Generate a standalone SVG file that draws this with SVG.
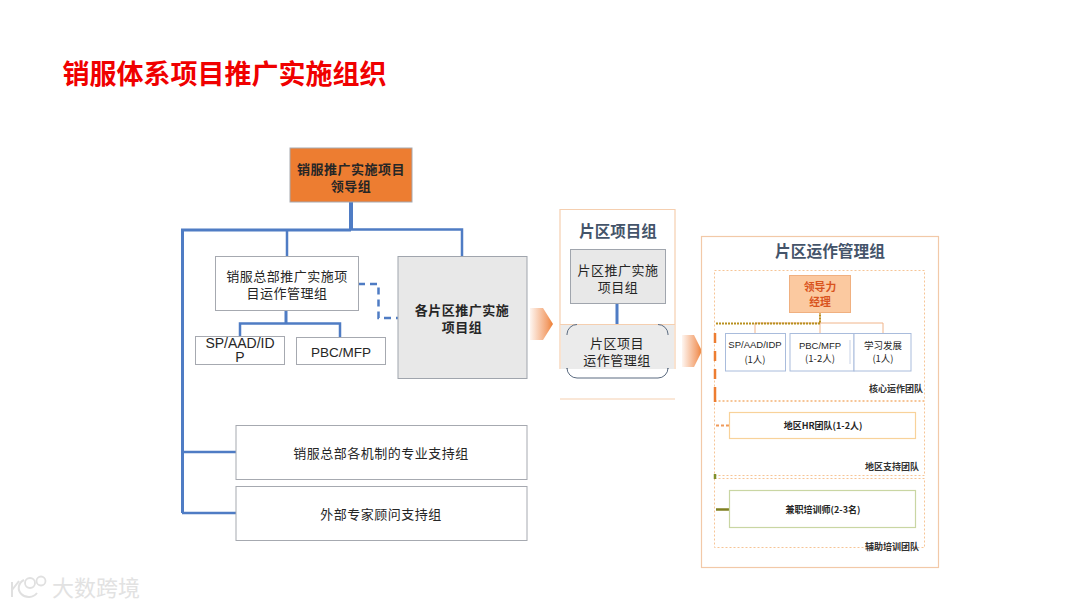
<svg xmlns="http://www.w3.org/2000/svg" width="1080" height="608" viewBox="0 0 1080 608">
<style>
text{font-family:"Liberation Sans","Noto Sans CJK SC",sans-serif;text-anchor:middle;fill:#262626}
.cjk{font-family:"Noto Sans CJK SC","Liberation Sans",sans-serif}
.b{font-weight:700}
.box{fill:#fff;stroke:#a6a9b0;stroke-width:1}
.grey{fill:#e8e8e8;stroke:#a0a5ad;stroke-width:1}
.blue{fill:none;stroke:#4f7cc4;stroke-width:2.5}
.pe{fill:none;stroke:#f5cfb0;stroke-width:1.2}
.dot{fill:none;stroke:#f6c596;stroke-width:1;stroke-dasharray:2 2}
.t13{font-size:13px;letter-spacing:.5px}.t9{font-size:9.5px}
.lab{font-size:9px;font-weight:700;fill:#333}
</style>
<defs>
<linearGradient id="fade" x1="0" x2="1" y1="0" y2="0"><stop offset="0" stop-color="#f08a4b" stop-opacity="0.08"/><stop offset="0.75" stop-color="#f08a4b" stop-opacity="0.8"/><stop offset="1" stop-color="#ed7d31"/></linearGradient>
</defs>
<rect width="1080" height="608" fill="#fff"/>
<text id="title" x="224.500" y="84" class="cjk b" style="font-size:27px;fill:#f00000">销服体系项目推广实施组织</text>

<g id="connectors">
<path class="blue" d="M351 202V229" style="stroke-width:4"/>
<path class="blue" d="M182.500 513V230H351" style="stroke-width:3"/>
<path class="blue" d="M287 230V256M351 229.500H462V256"/>
<path class="blue" d="M182 452H236M182 513H236"/>
<path class="blue" d="M286 310V323" style="stroke-width:3"/>
<path class="blue" d="M240 336V323.500H340V337"/>
<path class="blue" d="M358 284H378.500V318H398" style="stroke-dasharray:7 5"/>
<path class="blue" d="M617 303V324" style="stroke-width:3"/>
</g>

<g id="lead"><rect x="290" y="148" width="122" height="54" fill="#ed7d31" stroke="#a6a9b0"/>
<text x="351" y="173.500" class="cjk b t13">销服推广实施项目</text><text x="351" y="190.500" class="cjk b t13">领导组</text></g>
<g id="ops"><rect class="box" x="215.500" y="256.500" width="143" height="54"/>
<text x="287" y="281" class="cjk t13">销服总部推广实施项</text><text x="287" y="298" class="cjk t13">目运作管理组</text></g>
<g id="sp"><rect class="box" x="195.500" y="336.500" width="89" height="28"/>
<text x="240" y="348" style="font-size:14px">SP/AAD/ID</text><text x="240" y="362" style="font-size:14px">P</text></g>
<g id="pbc"><rect class="box" x="296.500" y="337.500" width="89" height="27"/>
<text x="341" y="357" style="font-size:13.500px">PBC/MFP</text></g>
<g id="regions"><rect class="grey" x="398" y="256.500" width="129" height="122"/>
<text x="462" y="315" class="cjk b t13">各片区推广实施</text><text x="462" y="332" class="cjk b t13">项目组</text></g>
<g id="support1"><rect class="box" x="236" y="425.500" width="291" height="54"/>
<text x="381" y="458" class="cjk t13">销服总部各机制的专业支持组</text></g>
<g id="support2"><rect class="box" x="236" y="486.500" width="291" height="54"/>
<text x="381" y="519" class="cjk t13">外部专家顾问支持组</text></g>

<path id="arrow1" d="M530 308H543L553 324L543 340H530Z" fill="url(#fade)"/>
<g id="area-group">
<path class="pe" d="M560 369V209.500H675V369M560 324.500H675M560 399H675"/>
<rect x="561" y="325" width="113" height="44" fill="#ebebeb"/>
<text x="618" y="237" class="cjk b" style="font-size:15.500px;fill:#44546a">片区项目组</text>
</g>
<g id="area-impl"><rect class="grey" x="570.500" y="249.500" width="95" height="54"/>
<text x="618" y="275" class="cjk t13">片区推广实施</text><text x="618" y="292" class="cjk t13">项目组</text></g>
<g id="area-ops">
<path d="M567 335V334A10 10 0 0 1 577 324.500M658 324.500A10 10 0 0 1 668 334V335M567 369V368A10 10 0 0 0 577 378H658A10 10 0 0 0 668 368V369" fill="none" stroke="#5b6b80"/>
<text x="617" y="348" class="cjk t13">片区项目</text><text x="617" y="365" class="cjk t13">运作管理组</text></g>
<path id="arrow2" d="M682 335H694L702 351L694 367H682Z" fill="url(#fade)"/>

<g id="mgmt"><rect x="701.500" y="236.500" width="237" height="331" fill="none" stroke="#f2c9a8" stroke-width="1.200"/>
<text x="830" y="257" class="cjk b" style="font-size:15.700px;fill:#44546a">片区运作管理组</text></g>
<g id="teams">
<rect class="dot" x="714.500" y="270.500" width="210" height="130"/>
<rect class="dot" x="714.500" y="401.500" width="210" height="74"/>
<rect class="dot" x="714.500" y="478.500" width="210" height="69"/>
<text x="896" y="392" class="lab cjk">核心运作团队</text>
<text x="892" y="470" class="lab cjk">地区支持团队</text>
<text x="892" y="550" class="lab cjk">辅助培训团队</text>
</g>
<g id="team-connectors" fill="none">
<path d="M755 333V323H883V333M820 313V333" stroke="#f0b48a" stroke-width="1"/>
<path d="M716 323.500H820V313" stroke="#b8901f" stroke-width="2" stroke-dasharray="2 1"/>
<path d="M715 333V396" stroke="#ed7d31" stroke-width="2.500" stroke-dasharray="10 8"/>
<path d="M715 396V402" stroke="#ed7d31" stroke-width="2.500"/>
<path d="M716 425.500H729" stroke="#f09a5a" stroke-width="2" stroke-dasharray="3 2"/>
<path d="M715 474V479" stroke="#7f8f2a" stroke-width="2.500"/>
<path d="M716 509.500H729" stroke="#7f7f20" stroke-width="2.500"/>
</g>
<g id="leader"><rect x="789.500" y="275.500" width="61" height="37" fill="#fbc9a0" stroke="#f0b080"/>
<text x="820" y="291" class="cjk b" style="font-size:10.800px;fill:#d9541e">领导力</text><text x="820" y="306" class="cjk b" style="font-size:10.800px;fill:#d9541e">经理</text></g>
<g id="r1"><rect x="725.500" y="333.500" width="60" height="37.500" fill="#fff" stroke="#a9bcdc"/>
<text x="755" y="348" class="t9">SP/AAD/IDP</text><text x="755" y="363" class="t9 cjk">(1人)</text></g>
<g id="r2"><rect x="790" y="333.500" width="64" height="37.500" fill="#fff" stroke="#a9bcdc"/>
<path d="M850 340V364" stroke="#c9d3e6" fill="none"/>
<text x="820" y="349" class="t9">PBC/MFP</text><text x="820" y="362" class="t9 cjk">(1-2人)</text></g>
<g id="r3"><rect x="854" y="333.500" width="57" height="37.500" fill="#fff" stroke="#a9bcdc"/>
<text x="883" y="349" class="t9 cjk">学习发展</text><text x="883" y="362" class="t9 cjk">(1人)</text></g>
<g id="hr"><rect x="729.500" y="412.500" width="186" height="26" fill="#fff" stroke="#f8d29a" stroke-width="1.200"/>
<text x="823" y="429" style="font-size:9px" class="b cjk">地区HR团队(1-2人)</text></g>
<g id="trainer"><rect x="729.500" y="490.500" width="186" height="37" fill="#fff" stroke="#c9d6a3" stroke-width="1.200"/>
<text x="823" y="513" style="font-size:9px" class="b cjk">兼职培训师(2-3名)</text></g>

<g id="watermark">
<path d="M12 582V597M12 590L19 581M24 580A10 9 0 1 0 37 593" fill="none" stroke="#e0e0e0" stroke-width="2"/>
<circle cx="30" cy="583" r="5" fill="none" stroke="#e0e0e0" stroke-width="1.800"/>
<circle cx="41" cy="581" r="4.500" fill="none" stroke="#e0e0e0" stroke-width="1.800"/>
<text x="96" y="596" class="cjk" style="font-size:22px;fill:#e2e2e2">大数跨境</text>
</g>
</svg>
